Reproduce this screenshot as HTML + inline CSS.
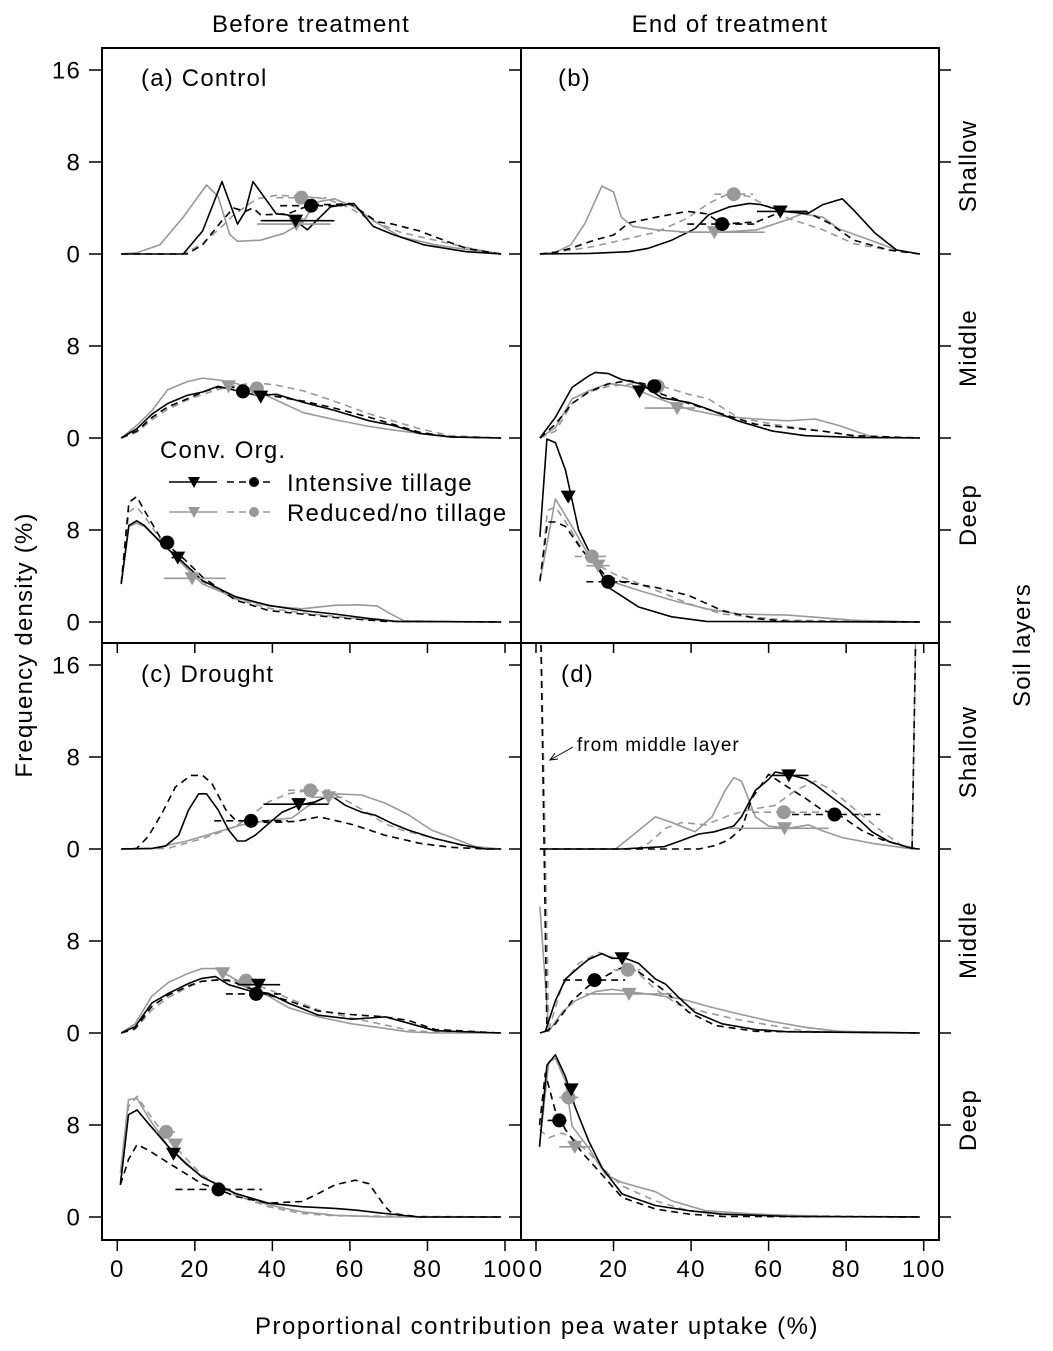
<!DOCTYPE html>
<html><head><meta charset="utf-8"><style>
html,body{margin:0;padding:0;background:#fff;}
svg{display:block;font-family:"Liberation Sans",Arial,sans-serif;}
text{letter-spacing:1.2px;}
</style></head><body>
<svg id="chart" width="1053" height="1351" viewBox="0 0 1053 1351" xmlns="http://www.w3.org/2000/svg">
<defs>
<clipPath id="clip-a"><rect x="102" y="48" width="419" height="595"/></clipPath>
<clipPath id="clip-b"><rect x="521" y="48" width="418" height="595"/></clipPath>
<clipPath id="clip-c"><rect x="102" y="643" width="419" height="597"/></clipPath>
<clipPath id="clip-d"><rect x="521" y="643" width="418" height="597"/></clipPath>
</defs>
<text x="311" y="32" font-size="24" text-anchor="middle">Before treatment</text>
<text x="730" y="32" font-size="24" text-anchor="middle">End of treatment</text>
<text transform="translate(32,645) rotate(-90)" font-size="24" text-anchor="middle">Frequency density (%)</text>
<text transform="translate(1030,645) rotate(-90)" font-size="24" text-anchor="middle">Soil layers</text>
<text x="537" y="1334" font-size="24" text-anchor="middle" style="letter-spacing:1.5px">Proportional contribution pea water uptake (%)</text>
<g id="axes"></g>
<g id="curves"></g>
<g id="means"></g>
<text x="141" y="86" font-size="24">(a) Control</text>
<text x="558" y="86" font-size="24">(b)</text>
<text x="141" y="682" font-size="24">(c) Drought</text>
<text x="561" y="682" font-size="24">(d)</text>
<text x="577" y="751" font-size="19" style="letter-spacing:1px">from middle layer</text>
<g stroke="#000" stroke-width="1" fill="none">
<line x1="573" y1="747" x2="550" y2="760"/><polyline points="555,753 550,760 558,759"/>
</g>
<g id="legend">
<text x="160" y="458" font-size="24">Conv. Org.</text>
<line x1="169" y1="482" x2="217" y2="482" stroke="#000" stroke-width="1.6"/>
<path d="M188,477 L200,477 L194,488 Z" fill="#000"/>
<line x1="227" y1="482" x2="275" y2="482" stroke="#000" stroke-width="1.6" stroke-dasharray="7,5"/>
<circle cx="254" cy="482" r="5" fill="#000"/>
<text x="287" y="491" font-size="24">Intensive tillage</text>
<line x1="169" y1="512" x2="217" y2="512" stroke="#999" stroke-width="1.6"/>
<path d="M188,507 L200,507 L194,518 Z" fill="#999"/>
<line x1="227" y1="512" x2="275" y2="512" stroke="#999" stroke-width="1.6" stroke-dasharray="7,5"/>
<circle cx="254" cy="512" r="5" fill="#999"/>
<text x="287" y="521" font-size="24">Reduced/no tillage</text>
</g>
</svg>
<script>
// ---- tick labels ----
const xTickValues = [0, 20, 40, 60, 80, 100];
const yTickValues = [16, 8, 0, 8, 0, 8, 0];
const layerNames = ["Deep", "Middle", "Shallow"];

// ---- curve data: [x] and [density] per panel / layer / series ----
// Panel a (control, before)
const aShCIx=[1,17,22,27,31,33,35,41,44,49,55,61,66,71,79,90,99];
const aShCIy=[0,0,2.0,6.3,2.6,3.7,6.3,3.5,3.4,2.1,4.1,4.4,2.4,1.7,0.8,0.2,0];
const aShOIx=[1,18,22,27,30,33,35,37,44,50,56,60,67,71,78,85,90,99];
const aShOIy=[0,0,0.8,2.9,4.0,3.7,4.0,3.4,3.5,4.3,4.3,4.4,2.8,2.6,2.0,1.1,0.5,0];
const aShCRx=[1,5,11,17,23,26,29,31,37,43,48,51,56,61,67,73,82,91,99];
const aShCRy=[0,0.1,0.8,3.2,6.0,5.0,1.7,1.1,1.2,1.8,2.8,4.5,4.8,4.1,2.7,1.5,0.8,0.35,0];
const aShORx=[1,17,22,27,30,36,41,48,54,60,65,73,82,91,99];
const aShORy=[0,0,0.9,2.4,3.4,4.8,5.1,5.0,4.8,4.0,3.0,1.9,1.2,0.5,0];
const aMiCIx=[1,5,9,13,18,22,26,31,36,41,48,56,65,71,78,86,99];
const aMiCIy=[0,0.8,2.1,3.0,3.7,4.0,4.5,4.1,3.7,3.8,3.1,2.4,1.5,1.1,0.4,0.1,0];
const aMiOIx=[1,5,9,13,18,22,26,31,36,41,48,56,65,71,78,86,99];
const aMiOIy=[0,0.6,1.8,2.7,3.4,4.0,4.4,4.4,4.0,3.6,3.2,2.6,1.8,1.2,0.5,0.1,0];
const aMiCRx=[1,5,9,13,18,22,27,31,36,41,48,56,65,71,78,86,99];
const aMiCRy=[0,1.1,2.4,4.2,4.9,5.2,5.0,4.7,4.1,3.3,2.2,1.6,1.0,0.7,0.4,0.1,0];
const aMiORx=[1,5,9,13,18,22,27,31,36,41,48,56,65,71,78,86,99];
const aMiORy=[0,0.5,1.6,2.5,3.3,3.8,4.3,4.6,4.8,4.6,4.1,3.2,2.1,1.5,0.8,0.2,0];
const aDeCIx=[1,3,5,7,11.5,16,22,30.5,39,47.6,56,65,72,99];
const aDeCIy=[3.3,8.4,8.8,8.4,6.8,5.5,3.6,2.2,1.45,1.0,0.7,0.3,0.05,0];
const aDeOIx=[1,3,5,7,11.5,17.5,22,30.5,39,47.6,56,69,99];
const aDeOIy=[3.3,10.4,10.9,9.7,7.1,5.4,3.9,1.9,1.0,0.7,0.4,0.05,0];
const aDeCRx=[1,3,5,7,11.5,16,22,30.5,39,47.6,56,62,67,70,74,99];
const aDeCRy=[3.3,8.3,8.6,8.3,6.9,5.3,3.3,2.1,1.4,1.15,1.45,1.5,1.4,0.8,0.1,0];
const aDeORx=[1,3,5,7,11.5,16,22,30.5,39,47.6,56,65,72,99];
const aDeORy=[3.3,9.6,10.0,9.2,7.0,5.3,3.5,2.0,1.2,0.8,0.5,0.2,0.05,0];
// Panel b (control, end)
const bShCIx=[1,14,24,29,35,41,44.5,50,55,58,64,70,74,79,82,87.5,93,99];
const bShCIy=[0,0.05,0.2,0.5,1.2,2.2,3.4,4.1,4.4,4.3,3.7,3.5,4.3,4.8,3.8,1.8,0.35,0];
const bShOIx=[1,5,9,15,20,24,31,39,44,48,57,63.5,69.5,75.5,82,91,99];
const bShOIy=[0,0.15,0.5,1.2,1.65,2.7,3.2,3.7,3.5,2.6,2.8,3.7,3.7,2.7,1.2,0.35,0];
const bShCRx=[1,5,9,12.7,17,20,22,25,31,39,48,57,65,68.6,74,78,87,93,99];
const bShCRy=[0,0.15,0.8,2.7,5.9,5.4,3.2,2.4,2.1,1.9,1.9,2.1,3.0,3.5,3.2,2.2,1.1,0.35,0];
const bShORx=[1,9,14,22,31,39,44.5,50,55,60,65,74,82,91,99];
const bShORy=[0,0.35,0.6,1.2,1.9,3.1,4.4,5.3,5.0,4.1,3.1,2.1,0.9,0.35,0];
const bMiCIx=[1,5,9.3,13.6,15.3,18.7,22,27,32.5,39.4,44.5,52,61,69.5,82,99];
const bMiCIy=[0,1.8,4.4,5.4,5.7,5.6,5.1,4.7,3.5,3.1,2.5,1.5,0.6,0.2,0.05,0];
const bMiOIx=[1,5,9.3,13.6,18.7,24,28,32.5,39.4,48,56.6,65,74,82,99];
const bMiOIy=[0,1.2,3.0,4.0,4.7,5.0,4.7,3.8,3.0,2.1,1.2,0.9,0.6,0.2,0];
const bMiCRx=[1,5,9.3,13.6,18.7,24,31,39.4,48,56.6,65,72,78,87,99];
const bMiCRy=[0,0.9,3.4,4.1,4.75,4.5,3.5,2.5,1.9,1.65,1.5,1.65,1.1,0.05,0];
const bMiORx=[1,5,9.3,13.6,18.7,25,32.5,39.4,44.5,52,61,69.5,82,99];
const bMiORy=[0,0.6,3.0,4.0,4.5,4.7,4.5,3.8,3.4,1.8,1.2,0.8,0.2,0];
const bDeCIx=[1,2.8,5,7.6,11,13.6,18.7,26.5,35,44,99];
const bDeCIy=[7.4,15.9,15.6,13.2,8.0,6.2,3.0,1.3,0.45,0.05,0];
const bDeOIx=[1,3,5,7.6,12,17.5,22,31,39.4,48,56.6,65,99];
const bDeOIy=[3.6,8.7,8.7,8.3,6.2,4.2,3.5,3.0,2.3,1.0,0.3,0.05,0];
const bDeCRx=[1,5,8.4,13.6,18.7,26.5,35,44,52,65,82,99];
const bDeCRy=[3.5,10.7,8.8,5.8,3.6,2.75,1.9,1.15,0.7,0.6,0.15,0];
const bDeORx=[1,3,5,8.4,13.6,20,31,39.4,48,65,99];
const bDeORy=[3.5,9.7,10.0,8.3,5.4,4.2,2.75,1.6,0.7,0.15,0];
// Panel c (drought, before)
const cShCIx=[1,9,12.4,15.8,18.4,21,23,26,28.7,31,33,35.6,39,42.5,46.8,51,55,58.8,63,66.5,71,75,82,89,95,99];
const cShCIy=[0,0.05,0.25,1.2,3.4,4.8,4.8,3.4,1.65,0.7,0.7,1.2,2.2,3.2,3.8,4.1,4.7,3.8,3.2,2.95,2.2,1.65,0.9,0.35,0,0];
const cShOIx=[1,5,8,11.5,15,19,22,24.4,28,30.5,35,39,46,52,56,61,69,78,86,95,99];
const cShOIy=[0,0.05,1.1,3.1,5.4,6.4,6.4,5.7,3.4,2.5,2.4,2.3,2.4,2.8,2.5,2.1,1.2,0.5,0.15,0,0];
const cShCRx=[1,9,17.5,26,32,39,45,49,53,56,63,69,75,81,87,92.4,99];
const cShCRy=[0,0.05,0.65,1.5,2.1,2.5,2.7,3.7,4.4,4.8,4.7,4.0,3.0,1.65,0.9,0.2,0];
const cShORx=[1,13,22,30.5,35.6,39,44,49.4,54.5,59.7,64.8,69,73.4,82,90.6,99];
const cShORy=[0,0.05,0.9,1.95,3.2,4.1,4.8,5.1,5.0,4.1,3.1,2.2,1.65,0.9,0.15,0];
const cMiCIx=[1,4.6,8.9,13.2,18.4,21.8,25.3,28.7,33.9,39,44.2,51.9,60.5,69.1,75.1,82,99];
const cMiCIy=[0,0.55,2.6,3.45,4.3,4.75,4.9,4.2,3.7,3.45,2.6,1.55,1.2,1.4,0.85,0.2,0];
const cMiOIx=[1,4.6,8.9,13.2,18.4,21.8,25.3,28.7,33.9,39,44.2,51.9,60.5,69.1,75.1,82,99];
const cMiOIy=[0,0.4,2.3,3.3,4.1,4.5,4.6,4.6,3.9,3.3,2.8,1.9,1.6,1.4,1.1,0.3,0];
const cMiCRx=[1,4.6,8.9,13.2,18.4,21.8,25.3,28.7,33.9,39,44.2,51.9,60.5,69.1,75.1,82,99];
const cMiCRy=[0,0.8,3.2,4.4,5.2,5.6,5.6,5.0,4.0,3.2,2.2,1.4,0.8,0.4,0.1,0,0];
const cMiORx=[1,4.6,8.9,13.2,18.4,21.8,25.3,28.7,33.9,39,44.2,51.9,60.5,69.1,75.1,82,99];
const cMiORy=[0,0.3,2.0,3.1,4.0,4.5,4.6,4.5,4.3,3.8,3.0,2.0,1.3,0.7,0.25,0.05,0];
const cDeCIx=[0.8,2.9,5.1,8.1,13.2,17.5,21.8,30.4,39,47.6,56.2,61.4,69.1,77.7,99];
const cDeCIy=[2.8,8.9,9.3,8.1,6.1,4.7,3.5,2.05,1.2,0.9,0.75,0.6,0.3,0,0];
const cDeOIx=[0.8,2.9,5.1,8.1,13.2,17.5,21.8,26.1,30.4,39,47.6,51.9,56.2,61.4,64.9,69.1,70.9,78,99];
const cDeOIy=[2.8,5.0,6.3,5.8,4.7,3.8,2.9,2.4,1.8,1.2,1.35,2.05,2.8,3.2,2.9,0.9,0.3,0,0];
const cDeCRx=[0.8,2.9,5.1,8.1,13.2,21.8,30.4,39,47.6,56.2,69.1,99];
const cDeCRy=[3.8,10.2,10.3,8.6,6.1,3.5,2.05,1.05,0.45,0.15,0,0];
const cDeORx=[0.8,2.9,5.1,8.1,13.2,21.8,30.4,39,47.6,56.2,99];
const cDeORy=[3.0,9.6,10.5,9.0,6.7,3.65,1.9,0.9,0.3,0.1,0];
// Panel d (drought, end)
const dShCIx=[1,22,33,36.8,42,46,51,53,56.6,60,61.7,65,69.5,72,75.5,80.6,86.7,91,97,99];
const dShCIy=[0,0,0.2,0.65,1.3,1.5,2.0,2.8,5.1,6.05,6.7,6.5,6.1,5.6,4.7,3.4,1.5,0.65,0.05,0];
const dShOIx=[1,29,42,46.3,49.7,53.1,55.7,60,63.5,69.5,73.8,78.9,84.1,89.3,97,99];
const dShOIy=[0,0,0,0.3,0.8,1.8,4.4,6.5,5.7,4.4,3.4,2.8,1.6,0.8,0.05,40];
const dShCRx=[1,20.5,24.8,30.8,35,41,45.4,48.8,51,53,56.6,60,65,70.3,73.8,78.9,86.7,97,99];
const dShCRy=[0,0,1.15,2.8,2.3,1.5,2.8,5.1,6.2,5.9,2.8,2.0,1.8,2.1,1.6,1.0,0.5,0,40];
const dShORx=[1,26,29,33.4,37.7,43.7,49.7,54.9,61.7,66.9,72,76.4,82.4,89.3,94.4,99];
const dShORy=[0,0,0.5,1.8,2.3,2.1,2.9,3.4,3.8,5.1,5.9,5.1,3.4,1.5,0.3,0];
const dMiCIx=[1,2.4,5,7.6,11,13.6,17,19.6,23,26.5,30.8,33.4,36.8,41,48,56.6,65,99];
const dMiCIy=[0,0.15,2.8,4.7,5.7,6.4,6.9,6.5,6.5,6.05,4.7,4.25,3.1,1.8,0.8,0.3,0.1,0];
const dMiOIx=[1,2.8,5,9.3,13.6,18.7,22.2,24.8,29.1,33.4,39.4,46.3,56.6,99];
const dMiOIy=[40,0.15,0.8,2.8,4.1,5.1,5.7,5.7,4.7,3.6,1.8,0.65,0.15,0];
const dMiCRx=[1,3.3,6.7,10.1,15.3,19.6,23.9,30.8,37.7,44.5,52.3,60.9,69.5,78.1,99];
const dMiCRy=[11,0.15,1.8,2.8,3.6,3.8,3.6,3.3,2.95,2.3,1.65,1.0,0.5,0.15,0];
const dMiORx=[1,3.3,6.7,11,16.2,20.5,24.8,30.8,36.8,43.7,52.3,60.9,69.5,99];
const dMiORy=[40,0.3,4.1,6.05,7.0,6.5,5.7,3.8,2.45,1.8,1.15,0.65,0.15,0];
const dDeCIx=[0.9,2.8,5,7.6,10.1,13.6,17,22.2,30.8,39.4,48,65,99];
const dDeCIy=[6.1,13.2,14.1,12.2,9.55,6.6,4.3,2.0,1.0,0.55,0.25,0.05,0];
const dDeOIx=[0.9,2.4,5,7.6,11.9,17,22.2,30.8,39.4,48,99];
const dDeOIy=[8,12.5,9.2,7.6,5.6,3.7,1.7,0.7,0.25,0.05,0];
const dDeCRx=[0.9,3.3,5,7.6,9.3,13.6,17.9,22.2,30.8,35.1,43.7,56.6,73.8,99];
const dDeCRy=[6.2,13.5,13.8,11.8,7.9,6.0,3.7,3.0,2.2,1.4,0.55,0.25,0.05,0];
const dDeORx=[0.9,3.3,6.7,9.3,13.6,17.9,22.2,30.8,39.4,48,99];
const dDeORy=[7.6,6.9,7.3,6.9,5.6,4.0,2.7,1.4,0.55,0.2,0];

// ---- mean points: series order [CI, OI, CR, OR] ----
const aShMeanX=[46,50,46.2,47.5], aShMeanY=[2.9,4.2,2.6,4.9], aShLo=[37,42,36,41], aShHi=[56,58,55,54];
const aMiMeanX=[37,32.4,28.7,36], aMiMeanY=[3.6,4.05,4.5,4.3], aMiLo=[37,32.4,28.7,36], aMiHi=[37,32.4,28.7,36];
const aDeMeanX=[15.6,12.8,19.3,13], aDeMeanY=[5.6,6.9,3.8,6.9], aDeLo=[14,12.8,12,13], aDeHi=[17,12.8,28,13];
const bShMeanX=[63,48,46,51], bShMeanY=[3.7,2.6,1.9,5.2], bShLo=[57,39,37,46], bShHi=[70,57,59,56];
const bMiMeanX=[26.7,30.5,36.4,31.4], bMiMeanY=[4.05,4.5,2.6,4.5], bMiLo=[26.7,30.5,28,31.4], bMiHi=[26.7,30.5,41,31.4];
const bDeMeanX=[8.3,18.6,16,14.4], bDeMeanY=[10.9,3.5,4.9,5.7], bDeLo=[8.3,13,13,10], bDeHi=[8.3,25,19,19];
const cShMeanX=[46.8,34.5,54.5,49.8], cShMeanY=[3.9,2.45,4.5,5.1], cShLo=[37.7,25,50,44], cShHi=[54.5,44,58,55];
const cMiMeanX=[36.4,35.8,27.2,33.2], cMiMeanY=[4.2,3.4,5.2,4.55], cMiLo=[31,28,27.2,30], cMiHi=[42,43,27.2,36];
const cDeMeanX=[14.5,26.1,15,12.6], cDeMeanY=[5.5,2.4,6.3,7.4], cDeLo=[14.5,15,15,10], cDeHi=[14.5,37.3,15,15];
const dShMeanX=[65.2,77,64.1,63.9], dShMeanY=[6.4,3.0,1.8,3.2], dShLo=[61,66,49.7,55.7], dShHi=[70.3,88.8,75.5,73.8];
const dMiMeanX=[22.2,15.1,24,23.7], dMiMeanY=[6.5,4.6,3.4,5.5], dMiLo=[22.2,7,12.7,20], dMiHi=[22.2,23,35,27];
const dDeMeanX=[9.1,6,10,8.4], dDeMeanY=[11.1,8.4,6.1,10.4], dDeLo=[9.1,3,6,6], dDeHi=[9.1,9,14,11];

// ---- geometry ----
const NS="http://www.w3.org/2000/svg";
const PX_PER_X=3.877, PX_PER_Y=11.5, LAYER_GAP=184;
const panels={
  a:{x0:117.3, deep:622, clip:"clip-a"},
  b:{x0:536, deep:622, clip:"clip-b"},
  c:{x0:117.3, deep:1217, clip:"clip-c"},
  d:{x0:536, deep:1217, clip:"clip-d"}
};
function sx(p,v){return panels[p].x0+v*PX_PER_X;}
function sy(p,layer,v){return panels[p].deep-layer*LAYER_GAP-v*PX_PER_Y;}
const seriesNames=["CI","OI","CR","OR"];
const seriesColor={CI:"#000",OI:"#000",CR:"#999",OR:"#999"};
const seriesDash={CI:null,OI:"7,5",CR:null,OR:"7,5"};
function mk(tag,attrs,parent){const e=document.createElementNS(NS,tag);for(const k in attrs)e.setAttribute(k,attrs[k]);parent.appendChild(e);return e;}

const curveList=[
 ["a",2,"CI",aShCIx,aShCIy],["a",2,"OI",aShOIx,aShOIy],["a",2,"CR",aShCRx,aShCRy],["a",2,"OR",aShORx,aShORy],
 ["a",1,"CI",aMiCIx,aMiCIy],["a",1,"OI",aMiOIx,aMiOIy],["a",1,"CR",aMiCRx,aMiCRy],["a",1,"OR",aMiORx,aMiORy],
 ["a",0,"CI",aDeCIx,aDeCIy],["a",0,"OI",aDeOIx,aDeOIy],["a",0,"CR",aDeCRx,aDeCRy],["a",0,"OR",aDeORx,aDeORy],
 ["b",2,"CI",bShCIx,bShCIy],["b",2,"OI",bShOIx,bShOIy],["b",2,"CR",bShCRx,bShCRy],["b",2,"OR",bShORx,bShORy],
 ["b",1,"CI",bMiCIx,bMiCIy],["b",1,"OI",bMiOIx,bMiOIy],["b",1,"CR",bMiCRx,bMiCRy],["b",1,"OR",bMiORx,bMiORy],
 ["b",0,"CI",bDeCIx,bDeCIy],["b",0,"OI",bDeOIx,bDeOIy],["b",0,"CR",bDeCRx,bDeCRy],["b",0,"OR",bDeORx,bDeORy],
 ["c",2,"CI",cShCIx,cShCIy],["c",2,"OI",cShOIx,cShOIy],["c",2,"CR",cShCRx,cShCRy],["c",2,"OR",cShORx,cShORy],
 ["c",1,"CI",cMiCIx,cMiCIy],["c",1,"OI",cMiOIx,cMiOIy],["c",1,"CR",cMiCRx,cMiCRy],["c",1,"OR",cMiORx,cMiORy],
 ["c",0,"CI",cDeCIx,cDeCIy],["c",0,"OI",cDeOIx,cDeOIy],["c",0,"CR",cDeCRx,cDeCRy],["c",0,"OR",cDeORx,cDeORy],
 ["d",2,"CI",dShCIx,dShCIy],["d",2,"OI",dShOIx,dShOIy],["d",2,"CR",dShCRx,dShCRy],["d",2,"OR",dShORx,dShORy],
 ["d",1,"CI",dMiCIx,dMiCIy],["d",1,"OI",dMiOIx,dMiOIy],["d",1,"CR",dMiCRx,dMiCRy],["d",1,"OR",dMiORx,dMiORy],
 ["d",0,"CI",dDeCIx,dDeCIy],["d",0,"OI",dDeOIx,dDeOIy],["d",0,"CR",dDeCRx,dDeCRy],["d",0,"OR",dDeORx,dDeORy]
];
const meanList=[
 ["a",2,aShMeanX,aShMeanY,aShLo,aShHi],["a",1,aMiMeanX,aMiMeanY,aMiLo,aMiHi],["a",0,aDeMeanX,aDeMeanY,aDeLo,aDeHi],
 ["b",2,bShMeanX,bShMeanY,bShLo,bShHi],["b",1,bMiMeanX,bMiMeanY,bMiLo,bMiHi],["b",0,bDeMeanX,bDeMeanY,bDeLo,bDeHi],
 ["c",2,cShMeanX,cShMeanY,cShLo,cShHi],["c",1,cMiMeanX,cMiMeanY,cMiLo,cMiHi],["c",0,cDeMeanX,cDeMeanY,cDeLo,cDeHi],
 ["d",2,dShMeanX,dShMeanY,dShLo,dShHi],["d",1,dMiMeanX,dMiMeanY,dMiLo,dMiHi],["d",0,dDeMeanX,dDeMeanY,dDeLo,dDeHi]
];

// ---- axes ----
const axes=document.getElementById("axes");
const frame=mk("rect",{x:102,y:48,width:837,height:1192,fill:"none",stroke:"#000","stroke-width":2},axes);


const vdiv=mk("line",{x1:521,y1:48,x2:521,y2:1240,stroke:"#000","stroke-width":2},axes);


const hdiv=mk("line",{x1:102,y1:643,x2:939,y2:643,stroke:"#000","stroke-width":2},axes);


["a","c"].forEach(function(p){
  const top=panels[p].deep-2*LAYER_GAP-16*PX_PER_Y;
  for(let i=0;i<yTickValues.length;i++){
    const y=top+i*(8*PX_PER_Y);
    const t=mk("line",{x1:89,y1:y,x2:102,y2:y,stroke:"#000","stroke-width":1.5},axes);
    
    
    const lab=mk("text",{x:81,y:y+8.5,"font-size":24,"text-anchor":"end"},axes);
    lab.textContent=yTickValues[i];
    
    
    const t2=mk("line",{x1:509,y1:y,x2:521,y2:y,stroke:"#000","stroke-width":1.5},axes);
    
    
    const t3=mk("line",{x1:939,y1:y,x2:951,y2:y,stroke:"#000","stroke-width":1.5},axes);
    
    
  }
});
["a","b"].forEach(function(p){
  xTickValues.forEach(function(v){
    const x=sx(p,v);
    const t=mk("line",{x1:x,y1:643,x2:x,y2:653,stroke:"#000","stroke-width":1.5},axes);
    
    
  });
});
["c","d"].forEach(function(p){
  xTickValues.forEach(function(v){
    const x=sx(p,v);
    const t=mk("line",{x1:x,y1:1240,x2:x,y2:1251,stroke:"#000","stroke-width":1.5},axes);
    
    
    const lab=mk("text",{x:x,y:1277,"font-size":24,"text-anchor":"middle"},axes);
    lab.textContent=v;
    
    
  });
});
const layerLabelY=[[515,348,166],[1120,940,752]];
[0,1].forEach(function(r){
  for(let l=0;l<3;l++){
    const t=mk("text",{transform:"translate(976,"+layerLabelY[r][l]+") rotate(-90)","font-size":24,"text-anchor":"middle"},axes);
    t.textContent=layerNames[l];
    
    
  }
});

// ---- curves ----
const cg=document.getElementById("curves");
const clipGroups={};
for(const p in panels){
  const g=mk("g",{"clip-path":"url(#"+panels[p].clip+")"},cg);
  
  
  clipGroups[p]=g;
}
const order={CR:0,OR:1,CI:2,OI:3};
curveList.slice().sort(function(a,b){return order[a[2]]-order[b[2]];}).forEach(function(c){
  const p=c[0],layer=c[1],s=c[2],xs=c[3],ys=c[4];
  let d="";
  for(let i=0;i<xs.length;i++){d+=(i?"L":"M")+sx(p,xs[i]).toFixed(1)+","+sy(p,layer,ys[i]).toFixed(1);}
  const attrs={d:d,fill:"none",stroke:seriesColor[s],"stroke-width":1.6,"stroke-linejoin":"round"};
  if(seriesDash[s])attrs["stroke-dasharray"]=seriesDash[s];
  const path=mk("path",attrs,clipGroups[p]);
  
  
});

// ---- means with error bars ----
const mg=document.getElementById("means");
const drawOrder=[2,3,0,1];
meanList.forEach(function(m){
  const p=m[0],layer=m[1],mx=m[2],my=m[3],lo=m[4],hi=m[5];
  drawOrder.forEach(function(i){
    const s=seriesNames[i];
    const cx=sx(p,mx[i]),cy=sy(p,layer,my[i]);
    if(hi[i]>lo[i]){
      const bar=mk("line",{x1:sx(p,lo[i]),y1:cy,x2:sx(p,hi[i]),y2:cy,stroke:seriesColor[s],"stroke-width":1.6},mg);
      if(seriesDash[s])bar.setAttribute("stroke-dasharray",seriesDash[s]);
      
      
    }
    let mark;
    if(s==="CI"||s==="CR"){
      mark=mk("path",{d:"M"+(cx-7.5)+","+(cy-6)+" L"+(cx+7.5)+","+(cy-6)+" L"+cx+","+(cy+7)+" Z",fill:seriesColor[s]},mg);
    }else{
      mark=mk("circle",{cx:cx,cy:cy,r:7,fill:seriesColor[s]},mg);
    }
    
    
  });
});
</script>
</body></html>
